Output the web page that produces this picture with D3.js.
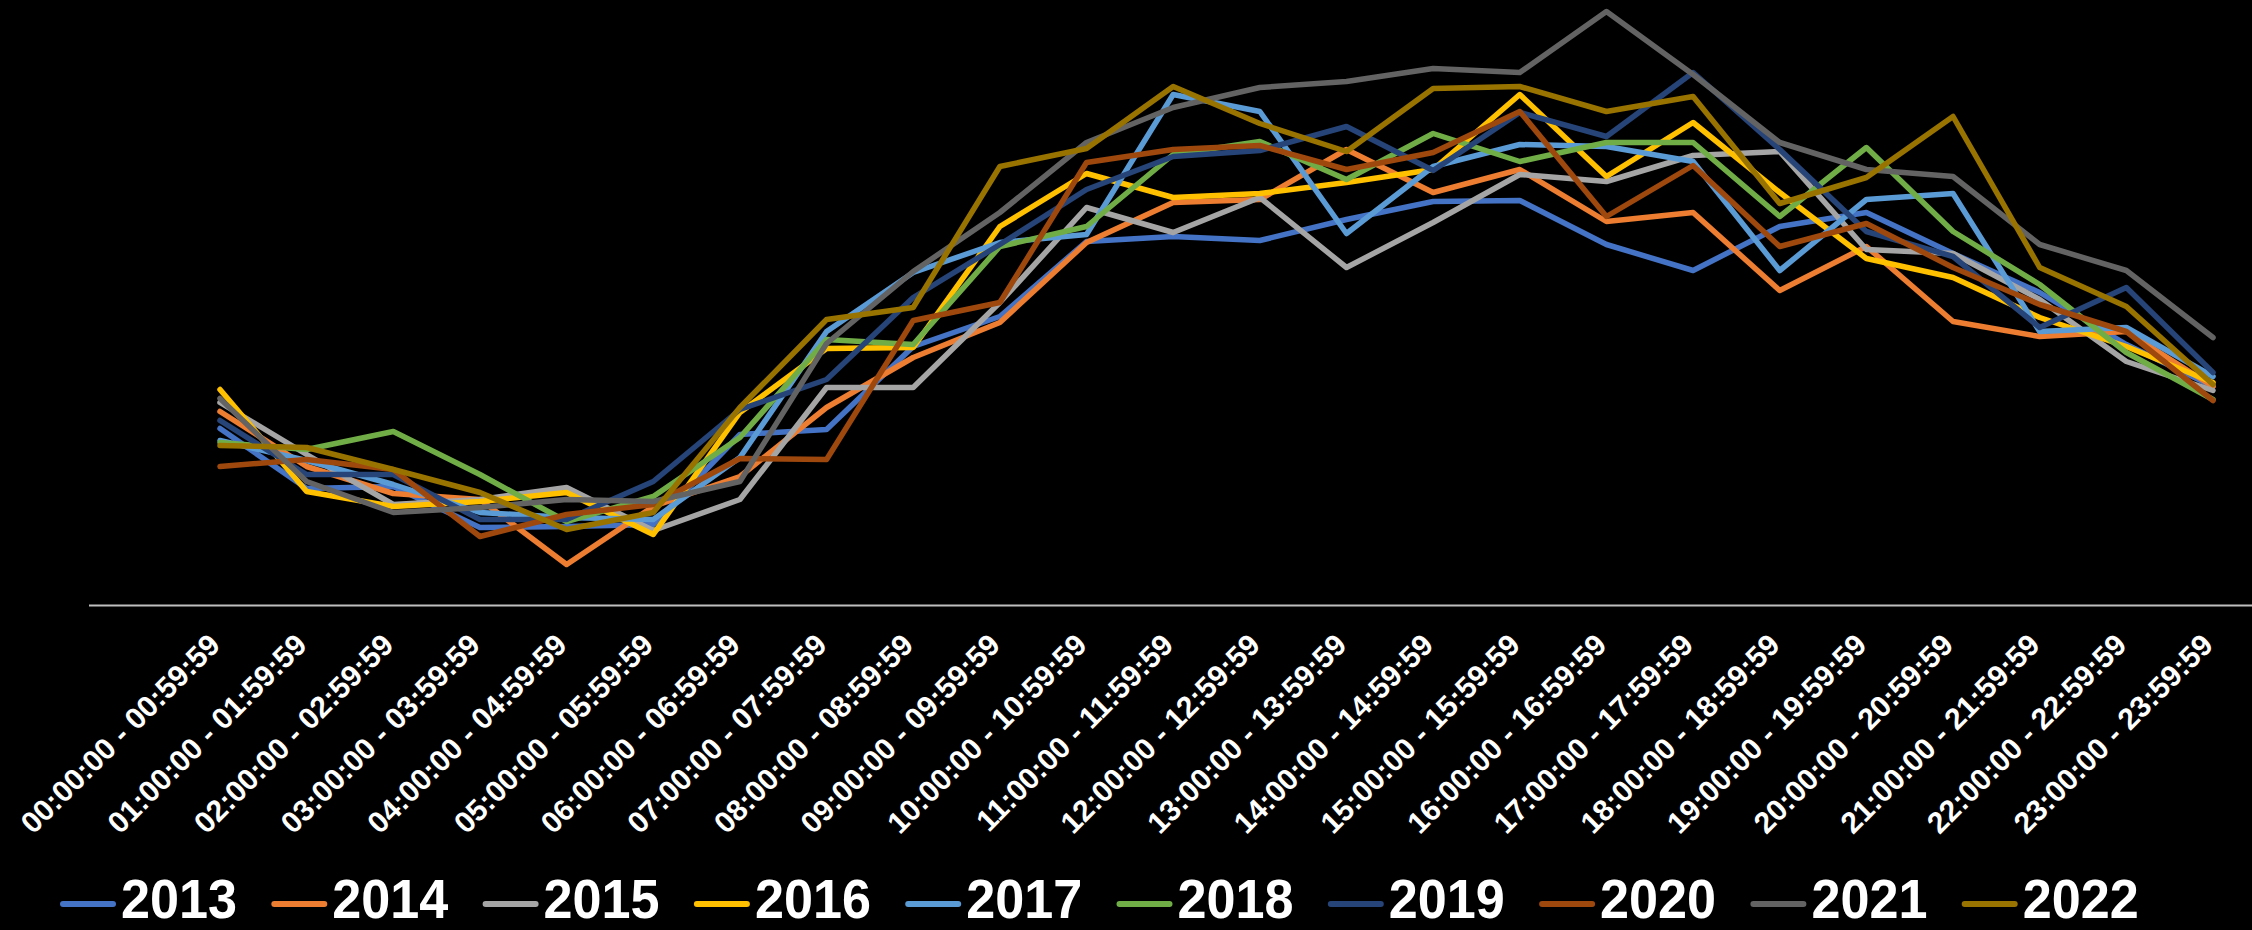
<html>
<head>
<script src="https://d3js.org/d3.v7.min.js"></script>
<style>
body { margin: 0; background: #000; }
svg { display: block; background: #000; }
.tick text { font-family: "Liberation Sans", Arial, sans-serif; font-weight: bold; font-size: 30px; fill: #fff; }
.legend text { font-family: "Liberation Sans Narrow", "Arial Narrow", "Liberation Sans", sans-serif; font-weight: bold; font-size: 55px; fill: #fff; }
</style>
</head>
<body>
<div id="chart"></div>
<script>

var width = 2252;
var height = 930;

var hours = ["00", "01", "02", "03", "04", "05", "06", "07", "08", "09", "10", "11",
	"12", "13", "14", "15", "16", "17", "18", "19", "20", "21", "22", "23"];
var categories = hours.map(function (h) { return h + ":00:00 - " + h + ":59:59"; });

var years = ["2013", "2014", "2015", "2016", "2017", "2018", "2019", "2020", "2021", "2022"];

var v2013 = [177,117,119,78,79,81,171,176,259,289,364,369,365,386,404,405,361,335,379,393,352,313,261,219];
var v2014 = [194,139,112,106,41,99,129,198,248,283,363,403,406,456,413,436,384,393,315,359,284,269,274,219];
var v2015 = [203,151,101,106,118,75,106,218,218,303,398,373,408,338,383,431,424,450,454,356,352,306,244,215];
var v2016 = [216,114,99,104,113,71,193,257,258,379,432,408,412,423,436,511,429,483,413,347,328,288,259,223];
var v2017 = [165,145,121,93,88,86,148,274,333,363,371,511,494,372,439,461,459,444,335,406,412,274,278,229];
var v2018 = [163,156,174,131,84,109,168,266,261,359,379,451,464,426,472,444,463,463,389,458,374,321,253,206];
var v2019 = [185,131,131,86,86,124,196,226,308,361,416,449,455,479,435,493,469,533,456,374,349,278,318,233];
var v2020 = [139,146,136,69,91,101,147,146,285,303,443,456,460,436,453,494,389,440,359,382,338,301,274,205];
var v2021 = [207,124,93,98,106,104,124,262,334,393,463,498,518,524,537,533,594,531,463,436,429,361,335,268];
var v2022 = [160,158,136,113,76,93,198,286,298,439,457,519,482,454,517,519,494,509,402,428,489,338,299,221];

var seriesValues = [v2013, v2014, v2015, v2016, v2017, v2018, v2019, v2020, v2021, v2022];

var colors = ["#4472C4", "#ED7D31", "#A5A5A5", "#FFC000", "#5B9BD5",
	"#70AD47", "#264478", "#9E480E", "#636363", "#997300"];

var svg = d3.select("#chart").append("svg")
.attr("width", width).attr("height", height);

var xScale = d3.scalePoint().domain(categories).range([220, 2213]);
var yScale = d3.scaleLinear().domain([0, 606]).range([605.5, -0.5]);

// horizontal axis line across the plot
svg.append("line")
.attr("x1", 89).attr("x2", width)
.attr("y1", yScale(0)).attr("y2", yScale(0))
.style("stroke", "#bfbfbf").style("stroke-width", 2);

var xAxis = d3.axisBottom(xScale).tickSize(0).tickPadding(0);
var axisG = svg.append("g").attr("transform", "translate(0, 648)").call(xAxis);
axisG.select(".domain").remove();
axisG.selectAll(".tick text")
.attr("x", 2).attr("y", 0).attr("dy", 0)
.attr("text-anchor", "end")
.attr("transform", "rotate(-45)");

var line = d3.line()
.x(function (d, i) { return xScale(categories[i]); })
.y(function (d) { return yScale(d); });

svg.selectAll("path.series")
.data(seriesValues)
.enter()
.append("path")
.attr("class", "series")
.attr("d", line)
.style("fill", "none")
.style("stroke", function (d, i) { return colors[i]; })
.style("stroke-width", 5.5)
.style("stroke-linejoin", "round")
.style("stroke-linecap", "round");

var legend = svg.append("g").attr("class", "legend");
var items = legend.selectAll("g").data(years).enter().append("g")
.attr("transform", function (d, i) { return "translate(" + (60 + 211.3 * i) + ", 0)"; });

items.append("line")
.attr("x1", 3).attr("x2", 53).attr("y1", 904).attr("y2", 904)
.style("stroke", function (d, i) { return colors[i]; })
.style("stroke-width", 6)
.style("stroke-linecap", "round");

items.append("text")
.attr("x", 61).attr("y", 918)
.attr("textLength", 116)
.attr("lengthAdjust", "spacingAndGlyphs")
.text(function (d) { return d; });

</script>
</body>
</html>
